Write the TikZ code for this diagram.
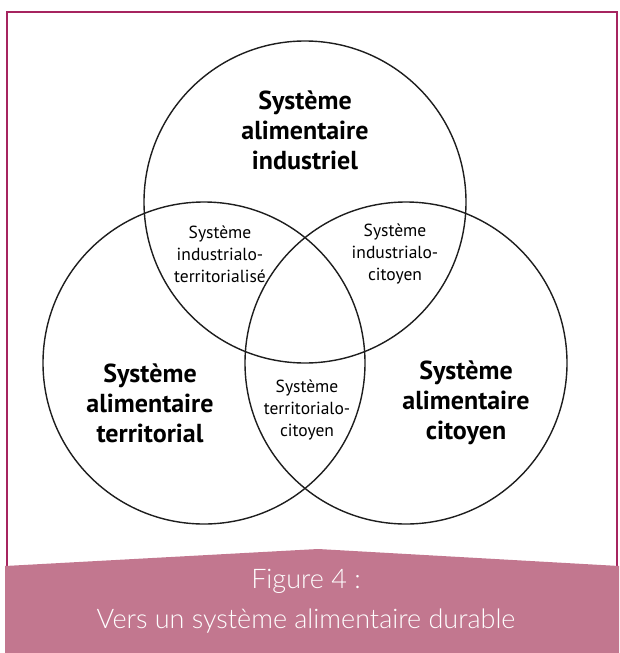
\documentclass[tikz,border=0pt]{standalone}
\usepackage{fontspec}
\setmainfont{PT Sans}
\newfontfamily\bannerfont{Lato Light}
\definecolor{framecol}{RGB}{166,36,95}
\definecolor{bannercol}{RGB}{194,119,143}
\definecolor{ringcol}{RGB}{30,30,30}
\tikzset{
  ring/.style={draw=ringcol, line width=1.4pt},
  biglabel/.style={align=center, font=\fontsize{26}{30}\selectfont\bfseries, inner sep=0pt},
  smalllabel/.style={align=center, font=\fontsize{17.5}{22}\selectfont, inner sep=0pt},
  bannertext/.style={align=center, text=white, font=\bannerfont\fontsize{27}{40}\selectfont, inner sep=0pt},
}
\begin{document}
\begin{tikzpicture}[x=1pt,y=-1pt]
\useasboundingbox (0,0) rectangle (619,653);
\fill[white] (0,0) rectangle (619,653);
\draw[framecol, line width=2pt] (7,566) -- (7,12) -- (617,12) -- (617,566);
\fill[bannercol] (5,566) -- (318,549) -- (619,566) -- (619,653) -- (5,653) -- cycle;
\node[bannertext] (banner) at (306,601) {Figure 4 :\\Vers un système alimentaire durable};
\node[ring, circle, minimum size=322pt, inner sep=0pt] (ind) at (305,202) {};
\node[ring, circle, minimum size=322pt, inner sep=0pt] (ter) at (204,363) {};
\node[ring, circle, minimum size=322pt, inner sep=0pt] (cit) at (406,363) {};
\node[biglabel] (lind) at (305,130) {Système\\alimentaire\\industriel};
\node[biglabel] (lter) at (150,403) {Système\\alimentaire\\territorial};
\node[biglabel] (lcit) at (466,403) {Système\\alimentaire\\citoyen};
\node[smalllabel] (lit) at (220,254) {Système\\industrialo-\\territorialisé};
\node[smalllabel] (lic) at (395,254) {Système\\industrialo-\\citoyen};
\node[smalllabel] (ltc) at (307,410) {Système\\territorialo-\\citoyen};
\end{tikzpicture}
\end{document}
